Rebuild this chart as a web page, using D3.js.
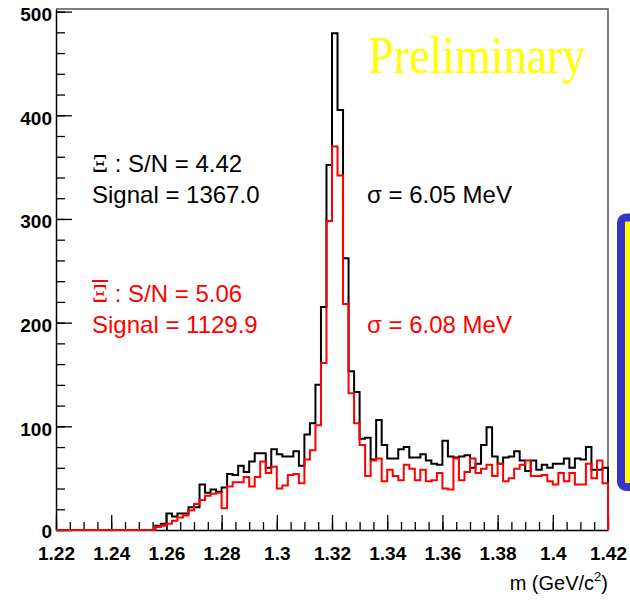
<!DOCTYPE html>
<html>
<head>
<meta charset="utf-8">
<script src="https://cdn.jsdelivr.net/npm/d3@7"></script>
<style>
body { margin: 0; background: #fff; }
svg { display: block; }
</style>
</head>
<body>
<div id="chart"></div>
<script>
// bins: 100 bins of 2 MeV from 1.22 to 1.42 GeV
var binStart = 1.22;
var binWidth = 0.002;

// Xi (black)
var xiCounts = [
  0, 0, 0, 0, 0, 0, 0, 0, 0, 0, 0, 0, 0, 0, 0, 0, 0, 0,
  4, 6, 16, 13, 16, 16, 22, 22, 44, 36, 39, 37,
  41, 54, 53, 62, 56, 66, 74, 74, 60, 78,
  73, 71, 71, 76, 62, 92, 103, 140, 215, 352,
  479, 405, 262, 153, 133, 88, 89, 68, 106, 82,
  69, 69, 78, 80, 70, 70, 73, 67, 64, 63,
  86, 71, 70, 71, 72, 60, 64, 82, 99, 71,
  64, 70, 71, 76, 67, 57, 67, 58, 63, 60,
  64, 64, 69, 60, 69, 68, 80, 58, 58, 60
];

// anti-Xi (red)
var antiXiCounts = [
  0, 0, 0, 0, 0, 0, 0, 0, 0, 0, 0, 0, 0, 0, 0, 0, 0, 0,
  3, 4, 6, 9, 12, 14, 19, 25, 29, 33, 35, 36,
  21, 42, 46, 46, 51, 42, 51, 66, 55, 61,
  40, 43, 53, 54, 45, 68, 77, 101, 161, 298,
  370, 342, 218, 132, 103, 82, 52, 67, 69, 47,
  58, 52, 48, 63, 59, 48, 58, 47, 48, 55,
  40, 39, 69, 48, 56, 69, 55, 59, 63, 52,
  64, 47, 50, 59, 63, 67, 52, 52, 53, 47,
  44, 55, 47, 55, 44, 44, 64, 50, 67, 45
];

var yMajorTicks = [0, 100, 200, 300, 400, 500];
var xMajorTicks = [1.22, 1.24, 1.26, 1.28, 1.30, 1.32, 1.34, 1.36, 1.38, 1.40, 1.42];
var xTickLabels = ["1.22", "1.24", "1.26", "1.28", "1.3", "1.32", "1.34", "1.36", "1.38", "1.4", "1.42"];

var xiLines = [": S/N = 4.42", "Signal = 1367.0", "\u03c3 = 6.05 MeV"];
var antiXiLines = [": S/N = 5.06", "Signal = 1129.9", "\u03c3 = 6.08 MeV"];

var width = 630;
var height = 600;

var svg = d3.select("#chart").append("svg")
    .attr("width", width)
    .attr("height", height);

var x = d3.scaleLinear().domain([1.22, 1.42]).range([56, 608]);
var y = d3.scaleLinear().domain([0, 502.5]).range([530, 9]);

// frame (top and right)
svg.append("path")
    .attr("d", "M" + x(1.22) + "," + y(502.5) + "H" + x(1.42) + "V" + y(0))
    .attr("fill", "none")
    .attr("stroke", "#555")
    .attr("stroke-width", 1.5);

// minor ticks
var xMinor = d3.range(0, 41).map(function(i) { return 1.22 + i * 0.005; });
var yMinor = d3.range(0, 26).map(function(i) { return i * 20; });

svg.append("g")
    .attr("transform", "translate(0," + y(0) + ")")
    .call(d3.axisBottom(x).tickValues(xMinor).tickFormat("").tickSize(-8).tickSizeOuter(0))
    .call(function(g) { g.select(".domain").remove(); });

svg.append("g")
    .attr("transform", "translate(" + x(1.22) + ",0)")
    .call(d3.axisLeft(y).tickValues(yMinor).tickFormat("").tickSize(-9).tickSizeOuter(0))
    .call(function(g) { g.select(".domain").remove(); });

// major ticks + labels
var xAxis = svg.append("g")
    .attr("transform", "translate(0," + y(0) + ")")
    .call(d3.axisBottom(x)
        .tickValues(xMajorTicks)
        .tickFormat(function(d, i) { return xTickLabels[i]; })
        .tickSize(-15)
        .tickSizeOuter(0)
        .tickPadding(17));

var yAxis = svg.append("g")
    .attr("transform", "translate(" + x(1.22) + ",0)")
    .call(d3.axisLeft(y)
        .tickValues(yMajorTicks)
        .tickSize(-16)
        .tickSizeOuter(0)
        .tickPadding(4));

svg.selectAll(".tick line").attr("stroke", "#000").attr("stroke-width", 1.3);
svg.selectAll(".domain").attr("stroke", "#000").attr("stroke-width", 1.5);

xAxis.selectAll("text")
    .attr("font-family", "Liberation Sans, Arial, sans-serif")
    .attr("font-weight", "bold")
    .attr("font-size", 19)
    .attr("fill", "#000");

yAxis.selectAll("text")
    .attr("font-family", "Liberation Sans, Arial, sans-serif")
    .attr("font-weight", "bold")
    .attr("font-size", 19)
    .attr("fill", "#000")
    .attr("dy", function(d) { return d === 0 ? "0.4em" : "0.47em"; });

// x axis title
var xTitle = svg.append("text")
    .attr("x", 608)
    .attr("y", 590)
    .attr("text-anchor", "end")
    .attr("font-family", "Liberation Sans, Arial, sans-serif")
    .attr("font-size", 20)
    .attr("fill", "#000");
xTitle.append("tspan").text("m (GeV/c");
xTitle.append("tspan").attr("font-size", 13).attr("dy", -9).text("2");
xTitle.append("tspan").attr("dy", 9).text(")");

// histograms
function histPoints(counts) {
    var pts = [[binStart, 0]];
    counts.forEach(function(c, i) {
        pts.push([binStart + i * binWidth, c]);
    });
    var end = binStart + counts.length * binWidth;
    pts.push([end, counts[counts.length - 1]]);
    pts.push([end, 0]);
    return pts;
}

var histLine = d3.line()
    .x(function(d) { return x(d[0]); })
    .y(function(d) { return y(d[1]); })
    .curve(d3.curveStepAfter);

svg.append("path")
    .attr("d", histLine(histPoints(xiCounts)))
    .attr("fill", "none")
    .attr("stroke", "#000")
    .attr("stroke-width", 2);

svg.append("path")
    .attr("d", histLine(histPoints(antiXiCounts)))
    .attr("fill", "none")
    .attr("stroke", "#ff0000")
    .attr("stroke-width", 2);

// Preliminary
svg.append("text")
    .attr("transform", "translate(368,73) scale(1,1.17)")
    .attr("font-family", "Liberation Serif, Times New Roman, serif")
    .attr("font-size", 46)
    .attr("fill", "#ffff00")
    .text("Preliminary");

// annotations
function drawBlock(lines, color, y1, y2, bar) {
    var t = svg.append("text")
        .attr("x", 92)
        .attr("y", y1)
        .attr("font-family", "Liberation Sans, Arial, sans-serif")
        .attr("font-size", 24)
        .attr("fill", color);
    t.append("tspan")
        .attr("font-family", "Liberation Serif, Times New Roman, serif")
        .attr("font-size", 25)
        .text("\u039e");
    t.append("tspan").text(" " + lines[0]);

    if (bar) {
        svg.append("line")
            .attr("x1", 92).attr("x2", 108)
            .attr("y1", y1 - 21).attr("y2", y1 - 21)
            .attr("stroke", color)
            .attr("stroke-width", 2);
    }

    svg.append("text")
        .attr("x", 92)
        .attr("y", y2)
        .attr("font-family", "Liberation Sans, Arial, sans-serif")
        .attr("font-size", 24)
        .attr("fill", color)
        .text(lines[1]);

    svg.append("text")
        .attr("x", 367)
        .attr("y", y2)
        .attr("font-family", "Liberation Sans, Arial, sans-serif")
        .attr("font-size", 24)
        .attr("fill", color)
        .text(lines[2]);
}

drawBlock(xiLines, "#000", 172, 203, false);
drawBlock(antiXiLines, "#ff0000", 302, 333, true);

// clipped box at the right edge
svg.append("rect")
    .attr("x", 621)
    .attr("y", 217.5)
    .attr("width", 40)
    .attr("height", 269.5)
    .attr("rx", 5)
    .attr("fill", "#ffff00")
    .attr("stroke", "#3535c8")
    .attr("stroke-width", 8);
</script>
</body>
</html>
